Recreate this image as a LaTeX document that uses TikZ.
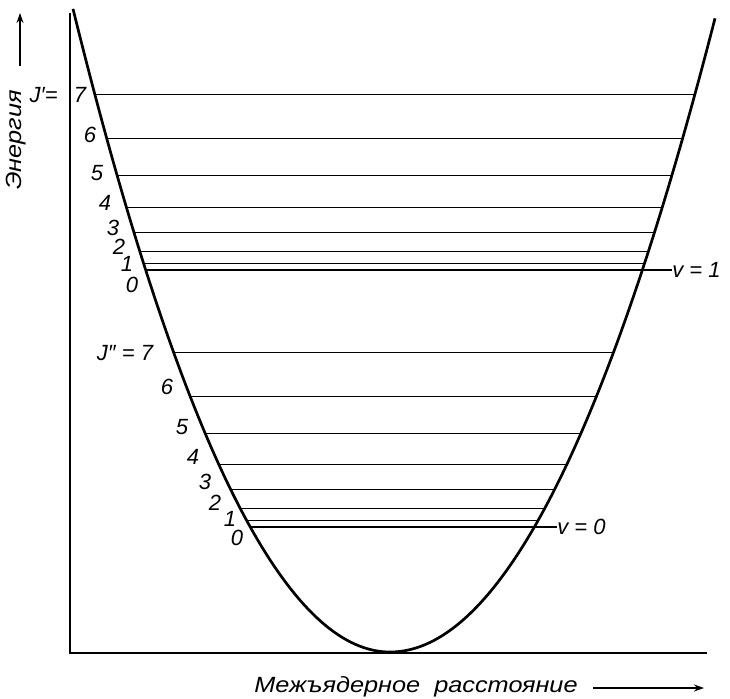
\documentclass[tikz,border=0pt]{standalone}
\usepackage{fontspec}
\setmainfont{Liberation Sans}
\usetikzlibrary{arrows.meta}
\tikzset{
  lab/.style={font=\itshape\fontsize{11}{13}\selectfont, inner sep=0pt},
  wide/.style={xscale=1.15, transform shape},
  level/.style={line width=0.55pt},
  curve/.style={line width=1.35pt, line join=round},
  axis/.style={line width=1pt},
  arr/.style={line width=0.7pt, -{Stealth[length=5pt,width=3.5pt]}}
}
\begin{document}
\begin{tikzpicture}[x=0.5pt,y=-0.5pt]
\useasboundingbox (0,0) rectangle (730,698);
% axes
\coordinate (Ytop) at (70,13);
\coordinate (O) at (70,653);
\coordinate (Xend) at (707,653);
\draw[axis] (Ytop) -- (O) -- (Xend);
% potential curve
\draw[curve] plot[domain=73:390,samples=120] (\x,{652-(0.08*(\x-390))^2})
  -- plot[domain=390:715,samples=120] (\x,{652-(0.07746*(\x-390))^2});
% upper rotational levels (v=1)
\foreach \J in {0,...,7}{
  \pgfmathsetmacro\yy{270-3.14*\J*(\J+1)}
  \pgfmathsetmacro\xl{390-sqrt(652-\yy)/0.08}
  \pgfmathsetmacro\xr{390+sqrt(652-\yy)/0.07746}
  \coordinate (LA\J) at (\xl,\yy);
  \coordinate (RA\J) at (\xr,\yy);
  \draw[level] (LA\J) -- (RA\J);
}
% lower rotational levels (v=0)
\foreach \J in {0,...,7}{
  \pgfmathsetmacro\yy{527-3.11*\J*(\J+1)}
  \pgfmathsetmacro\xl{390-sqrt(652-\yy)/0.08}
  \pgfmathsetmacro\xr{390+sqrt(652-\yy)/0.07746}
  \coordinate (LB\J) at (\xl,\yy);
  \coordinate (RB\J) at (\xr,\yy);
  \draw[level] (LB\J) -- (RB\J);
}
% J' labels
\node[lab, anchor=east] (jp) at (58,95) {J′=};
\node[lab] (a7) at (80,95) {7};
\node[lab] (a6) at (90,135) {6};
\node[lab] (a5) at (97,173) {5};
\node[lab] (a4) at (105,203) {4};
\node[lab] (a3) at (113,228) {3};
\node[lab] (a2) at (119,247) {2};
\node[lab] (a1) at (127,264) {1};
\node[lab] (a0) at (132,285) {0};
% J'' labels
\node[lab] (jpp) at (125,353) {J″ = 7};
\node[lab] (b6) at (167,387) {6};
\node[lab] (b5) at (182,427) {5};
\node[lab] (b4) at (193,457) {4};
\node[lab] (b3) at (205,482) {3};
\node[lab] (b2) at (215,503) {2};
\node[lab] (b1) at (230,519) {1};
\node[lab] (b0) at (237,538) {0};
% v labels
\node[lab, anchor=west] (v1) at (672,270) {v = 1};
\draw[level] (RA0) -- (v1.west);
\node[lab, anchor=west] (v0) at (557,527) {v = 0};
\draw[level] (RB0) -- (v0.west);
% axis titles
\node[lab, rotate=90, wide] (E) at (16,140) {Энергия};
\coordinate (ea) at (20,66);
\coordinate (eb) at (20,13);
\draw[arr] (ea) -- (eb);
\node[lab, wide] (X) at (416,687) {Межъядерное\ \ расстояние};
\coordinate (xa) at (593,688);
\coordinate (xb) at (704,688);
\draw[arr] (xa) -- (xb);
\end{tikzpicture}
\end{document}
